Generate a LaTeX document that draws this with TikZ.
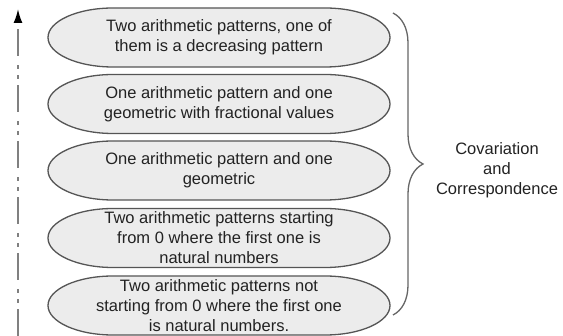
\documentclass[tikz,border=0pt]{standalone}
\usepackage{fontspec}
\setmainfont{Liberation Sans}
\usepackage{tikz}
\usetikzlibrary{arrows.meta,positioning,decorations.pathreplacing,backgrounds}
\definecolor{pillfill}{HTML}{ECECEC}
\definecolor{pilledge}{HTML}{555555}
\definecolor{txtgray}{HTML}{222222}

\begin{document}
\begin{tikzpicture}[x=1pt, y=1pt,
    levelbox/.style={inner sep=0pt, align=center, text=txtgray, font=\fontsize{16.5}{20}\selectfont},
    outline/.style={draw=pilledge, line width=1.3pt, fill=pillfill},
    trend/.style={draw=black!50, line width=1.7pt, dash pattern=on 27pt off 6pt on 4pt off 6pt on 4pt off 9pt, -{Latex[length=14pt,width=9pt,black]}},
    bracket/.style={decorate, decoration={brace, amplitude=30pt}, draw=black!60, line width=1.3pt}]
    \useasboundingbox (0,0) rectangle (563,-336);

    % Patterns
    \node[levelbox] (p1) at (219,-37.5) {Two arithmetic patterns, one of\\them is a decreasing pattern};
    \node[levelbox] (p2) at (219,-104) {One arithmetic pattern and one\\geometric with fractional values};
    \node[levelbox] (p3) at (219,-170.5) {One arithmetic pattern and one\\geometric};
    \node[levelbox] (p4) at (219,-238) {Two arithmetic patterns starting\\from 0 where the first one is\\natural numbers};
    \node[levelbox] (p5) at (219,-305.5) {Two arithmetic patterns not\\starting from 0 where the first one\\is natural numbers.};

    % Outlines
    \begin{scope}[on background layer]
        \foreach \p in {p1,p2,p3,p4,p5}
            \draw[outline, shift={(\p.center)}] (-106,29.5) -- (106,29.5)
                arc[start angle=90, end angle=-90, x radius=65, y radius=29.5]
                -- (-106,-29.5)
                arc[start angle=270, end angle=90, x radius=65, y radius=29.5] -- cycle;
    \end{scope}

    % Arrow
    \coordinate (abot) at (18,-336);
    \coordinate (atop) at (18,-9);
    \draw[trend] (abot) -- (atop);

    % Brace
    \coordinate (btop) at (393,-13);
    \coordinate (bbot) at (393,-315);
    \draw[bracket] (btop) -- (bbot);

    % Label
    \node[levelbox] (cc) at (497,-170) {Covariation\\and\\Correspondence};
\end{tikzpicture}
\end{document}
